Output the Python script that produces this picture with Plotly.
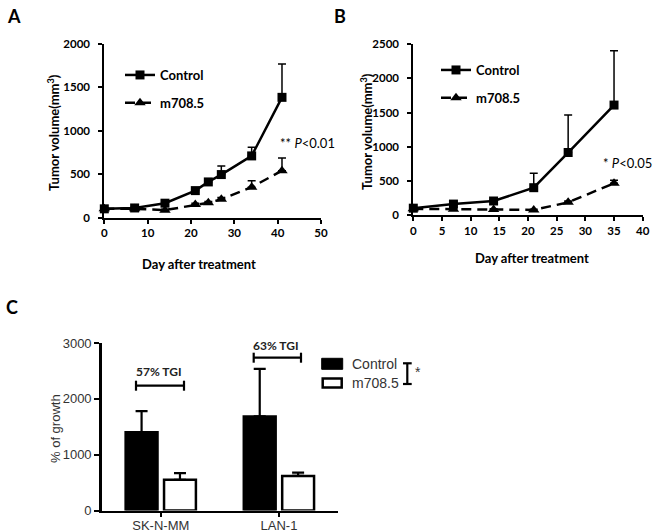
import plotly.graph_objects as go

W, H = 654, 532

# ---------------- data ----------------
a_days = [0, 7, 14, 21, 24, 27, 34, 41]
a_control = [100, 110, 165, 310, 410, 495, 710, 1385]
a_control_err = [10, 10, 15, 20, 20, 100, 100, 385]
a_m708 = [100, 100, 85, 150, 170, 210, 350, 540]
a_m708_err = [10, 10, 10, 15, 15, 20, 75, 145]

b_days = [0, 7, 14, 21, 27, 35]
b_control = [100, 160, 205, 400, 915, 1610]
b_control_err = [15, 20, 20, 210, 550, 795]
b_m708 = [90, 85, 80, 75, 185, 465]
b_m708_err = [10, 10, 10, 10, 20, 45]

c_lines = ["SK-N-MM", "LAN-1"]
c_control = [1400, 1685]
c_control_err = [380, 850]
c_m708 = [550, 620]
c_m708_err = [120, 60]

series_names = ["Control", "m708.5"]


def px(x):
    return x / W


def py(y):
    return 1 - y / H


BOLD = dict(family="Lato", size=11.5, color="black", weight="bold")
ARIAL = "Liberation Sans, Arial"
GREY = "#333333"

fig = go.Figure()


def add_growth(xs, ctrl, ctrl_err, trt, trt_err, xa, ya, leg):
    fig.add_trace(go.Scatter(
        x=xs, y=ctrl, name=series_names[0], mode="lines+markers",
        xaxis=xa, yaxis=ya, legend=leg, legendgroup=leg + "c",
        line=dict(color="black", width=2.5),
        marker=dict(symbol="square", size=9, color="black"),
        error_y=dict(type="data", array=ctrl_err, arrayminus=[0] * len(xs),
                     symmetric=False, color="black", thickness=1.5, width=4),
        cliponaxis=False,
    ))
    fig.add_trace(go.Scatter(
        x=xs, y=trt, name=series_names[1], mode="lines+markers",
        xaxis=xa, yaxis=ya, legend=leg, legendgroup=leg + "t",
        line=dict(color="black", width=2.5, dash="10px,6px"),
        marker=dict(symbol="triangle-up", size=10, color="black"),
        error_y=dict(type="data", array=trt_err, arrayminus=[0] * len(xs),
                     symmetric=False, color="black", thickness=1.5, width=4),
        cliponaxis=False,
    ))


add_growth(a_days, a_control, a_control_err, a_m708, a_m708_err, "x", "y", "legend")
add_growth(b_days, b_control, b_control_err, b_m708, b_m708_err, "x2", "y2", "legend2")

fig.add_trace(go.Bar(
    x=c_lines, y=c_control, name=series_names[0], xaxis="x3", yaxis="y3",
    marker=dict(color="black", line=dict(color="black", width=2.5)),
    error_y=dict(type="data", array=c_control_err, arrayminus=[0, 0],
                 symmetric=False, color="black", thickness=2.2, width=6),
    showlegend=False,
))
fig.add_trace(go.Bar(
    x=c_lines, y=c_m708, name=series_names[1], xaxis="x3", yaxis="y3",
    marker=dict(color="white", line=dict(color="black", width=2.5)),
    error_y=dict(type="data", array=c_m708_err, arrayminus=[0, 0],
                 symmetric=False, color="black", thickness=2.2, width=6),
    showlegend=False,
))

axis_common = dict(showline=True, linecolor="black", showgrid=False, zeroline=False,
                   ticks="outside", tickcolor="black", fixedrange=True, automargin=False)

fig.update_layout(
    template="none",
    width=W, height=H, margin=dict(l=0, r=0, t=0, b=0, autoexpand=False),
    paper_bgcolor="white", plot_bgcolor="white",
    font=dict(family="Lato", size=12, color="black"),
    barmode="group", bargap=0.35, bargroupgap=0.17,
    xaxis=dict(domain=[px(104.3), px(321)], range=[0, 50], dtick=10, anchor="y",
               linewidth=2, tickwidth=2, ticklen=4, tickfont=BOLD, **axis_common),
    yaxis=dict(domain=[py(217.5), py(44)], range=[0, 2000], dtick=500, anchor="x",
               linewidth=2, tickwidth=2, ticklen=4, tickfont=BOLD,
               ticklabelstandoff=6, **axis_common),
    xaxis2=dict(domain=[px(413.3), px(642.7)], range=[0, 40], dtick=5, anchor="y2",
                linewidth=2, tickwidth=2, ticklen=4, tickfont=BOLD, **axis_common),
    yaxis2=dict(domain=[py(215), py(44.3)], range=[0, 2500], dtick=500, anchor="x2",
                linewidth=2, tickwidth=2, ticklen=4, tickfont=BOLD,
                ticklabelstandoff=6, **axis_common),
    xaxis3=dict(domain=[px(101.7), px(338)], range=[-0.5, 1.5], type="category",
                anchor="y3", linewidth=2.5, tickwidth=2, ticklen=4,
                ticklabelstandoff=-3,
                tickfont=dict(family=ARIAL, size=13, color=GREY), **axis_common),
    yaxis3=dict(domain=[py(510.5), py(343)], range=[0, 3000], dtick=1000, anchor="x3",
                linewidth=2.5, tickwidth=2, ticklen=5,
                tickfont=dict(family=ARIAL, size=13, color=GREY), **axis_common),
    legend=dict(x=px(120), y=py(60), xanchor="left", yanchor="top",
                bgcolor="rgba(0,0,0,0)", borderwidth=0,
                font=dict(family="Lato", size=13, weight="bold", color="black"),
                tracegroupgap=8, traceorder="grouped"),
    legend2=dict(x=px(436), y=py(55), xanchor="left", yanchor="top",
                 bgcolor="rgba(0,0,0,0)", borderwidth=0,
                 font=dict(family="Lato", size=13, weight="bold", color="black"),
                 tracegroupgap=8, traceorder="grouped"),
    showlegend=True,
)

ann = []


def text(x, y, t, font, angle=0, xanchor="center"):
    ann.append(dict(x=px(x), y=py(y), xref="paper", yref="paper", text=t,
                    showarrow=False, textangle=angle, font=font,
                    xanchor=xanchor, yanchor="middle"))


panel_font = dict(family="Lato", size=18, weight="bold", color="black")
text(14, 16, "A", panel_font)
text(340, 16, "B", panel_font)
text(12, 307, "C", panel_font)

title_font = dict(family="Lato", size=13, weight="bold", color="black")
text(53, 133, "Tumor volume(mm<sup>3</sup>)", title_font, angle=-90)
text(366, 132, "Tumor volume(mm<sup>3</sup>)", title_font, angle=-90)
text(199, 264, "Day after treatment", title_font)
text(532, 258, "Day after treatment", title_font)

p_font = dict(family="Lato", size=13, color="black")
text(307, 143, "** <i>P</i>&lt;0.01", p_font)
text(627, 163, "* <i>P</i>&lt;0.05", p_font)

text(55, 429, "% of growth", dict(family=ARIAL, size=13, color=GREY), angle=-90)
tgi_font = dict(family="Lato", size=12, weight="bold", color="#222222")
text(159, 371.7, "57% TGI", tgi_font)
text(276, 345.7, "63% TGI", tgi_font)
leg_font = dict(family=ARIAL, size=14, color=GREY)
text(350, 364, series_names[0], leg_font, xanchor="left")
text(350, 383.3, series_names[1], leg_font, xanchor="left")
text(413, 372, "*", dict(family=ARIAL, size=14, color=GREY), xanchor="left")

shapes = []


def seg(x0, y0, x1, y1, w=2.2):
    shapes.append(dict(type="line", xref="paper", yref="paper",
                       x0=px(x0), y0=py(y0), x1=px(x1), y1=py(y1),
                       line=dict(color="black", width=w)))


def bracket(x0, x1, y, h=5):
    seg(x0, y, x1, y)
    seg(x0, y - h, x0, y + h)
    seg(x1, y - h, x1, y + h)


bracket(136, 184, 385.7)
bracket(253.7, 301, 357.7)

# legend for panel C
shapes.append(dict(type="rect", xref="paper", yref="paper",
                   x0=px(321.7), x1=px(342.7), y0=py(369.3), y1=py(358.3),
                   fillcolor="black", line=dict(color="black", width=1)))
shapes.append(dict(type="rect", xref="paper", yref="paper",
                   x0=px(322.7), x1=px(341.7), y0=py(387.5), y1=py(378.5),
                   fillcolor="white", line=dict(color="black", width=2.5)))
# significance bracket beside legend
seg(407.3, 363.3, 407.3, 384)
seg(403, 363.3, 411.7, 363.3)
seg(403, 384, 411.7, 384)

fig.update_layout(annotations=ann, shapes=shapes)

fig.write_html(
    "out.html",
    config={"displayModeBar": False, "staticPlot": True},
    post_script="document.body.style.margin='0px';document.body.style.overflow='hidden';",
)
